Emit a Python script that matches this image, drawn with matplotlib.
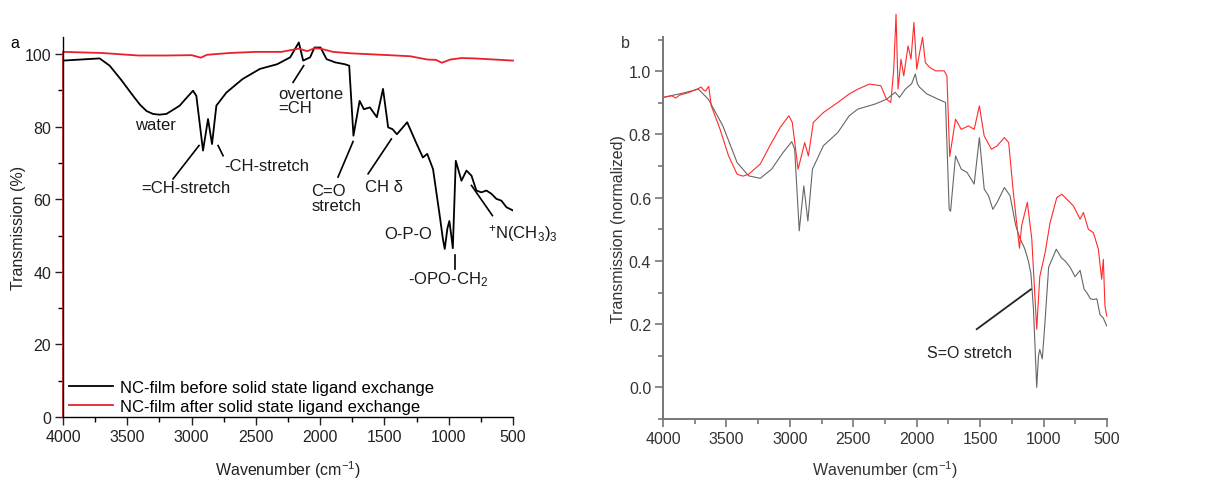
import matplotlib
matplotlib.use('Agg')
import matplotlib.pyplot as plt
from matplotlib.ticker import MultipleLocator, FormatStrFormatter

plt.rcParams['font.family'] = ['Liberation Sans', 'DejaVu Sans']
plt.rcParams['mathtext.fontset'] = 'custom'
plt.rcParams['mathtext.rm'] = 'Liberation Sans'
plt.rcParams['mathtext.default'] = 'regular'

# panel a: NC-film before exchange (black)
wn_before = [4000, 3715, 3637, 3550, 3455, 3400, 3350, 3300, 3250, 3196, 3150, 3092, 3050,
             2989, 2963, 2911, 2872, 2841, 2807, 2729, 2604, 2469, 2334, 2233, 2166, 2132,
             2078, 2044, 1997, 1950, 1882, 1808, 1774, 1741, 1693, 1660, 1613, 1559, 1511,
             1471, 1437, 1403, 1323, 1255, 1201, 1167, 1122, 1070, 1045, 1031, 1010, 995,
             980, 968, 945, 901, 862, 823, 785, 746, 707, 668, 629, 590, 551, 500]
t_before = [98.2, 98.8, 96.8, 93.0, 88.5, 86.0, 84.3, 83.5, 83.3, 83.5, 84.5, 85.8, 87.5,
            89.9, 88.5, 73.4, 82.1, 75.2, 85.8, 89.4, 93.1, 95.9, 97.2, 99.1, 103.2, 98.2,
            99.1, 101.8, 101.8, 98.6, 97.7, 97.2, 96.8, 77.5, 87.1, 84.8, 85.3, 82.6, 90.4,
            79.8, 79.3, 77.9, 81.2, 75.7, 71.5, 72.5, 68.3, 55.5, 49.0, 46.3, 52.0, 54.0,
            50.0, 46.5, 70.6, 65.1, 67.9, 66.5, 62.4, 61.9, 62.4, 61.5, 60.1, 59.6, 57.8, 56.9]

# panel a: NC-film after exchange (red)
wn_after = [4000, 4000, 3900, 3700, 3413, 3200, 3000, 2928, 2880, 2700, 2500, 2300, 2166,
            2100, 2044, 1997, 1900, 1760, 1525, 1300, 1167, 1100, 1053, 987, 900, 800,
            700, 600, 500]
t_after = [0, 100.6, 100.5, 100.3, 99.6, 99.6, 99.7, 99.0, 99.8, 100.3, 100.6, 100.6, 101.5,
           100.8, 101.6, 101.5, 100.6, 100.2, 99.8, 99.4, 98.5, 98.4, 97.6, 98.5, 98.9, 98.8,
           98.6, 98.4, 98.2]

# panel b: normalized spectra
wn_b_red = [4000, 3930, 3900, 3870, 3800, 3721, 3700, 3680, 3665, 3640, 3619, 3551, 3483,
            3416, 3370, 3325, 3234, 3144, 3076, 3008, 2981, 2935, 2883, 2854, 2815, 2736,
            2622, 2532, 2464, 2374, 2283, 2238, 2204, 2181, 2163, 2147, 2124, 2102, 2068,
            2045, 2022, 2000, 1977, 1954, 1932, 1898, 1852, 1784, 1762, 1740, 1694, 1649,
            1592, 1547, 1506, 1468, 1411, 1366, 1309, 1275, 1241, 1207, 1190, 1173, 1128,
            1093, 1070, 1054, 1030, 988, 949, 896, 857, 817, 765, 712, 686, 647, 607, 568,
            542, 529, 516, 502]
v_b_red = [0.917, 0.922, 0.915, 0.924, 0.932, 0.945, 0.950, 0.940, 0.937, 0.952, 0.890,
           0.817, 0.732, 0.674, 0.668, 0.674, 0.706, 0.774, 0.822, 0.859, 0.838, 0.690,
           0.774, 0.732, 0.838, 0.869, 0.901, 0.928, 0.943, 0.959, 0.954, 0.911, 0.901,
           1.006, 1.180, 0.943, 1.038, 0.985, 1.080, 1.038, 1.154, 1.006, 1.059, 1.107,
           1.027, 1.012, 1.001, 1.001, 0.985, 0.730, 0.848, 0.816, 0.827, 0.816, 0.890,
           0.795, 0.753, 0.764, 0.790, 0.774, 0.627, 0.501, 0.440, 0.511, 0.585, 0.470,
           0.300, 0.184, 0.350, 0.426, 0.520, 0.600, 0.611, 0.595, 0.574, 0.532, 0.553,
           0.500, 0.489, 0.437, 0.342, 0.405, 0.257, 0.226]

wn_b_gray = [4000, 3850, 3721, 3642, 3528, 3416, 3325, 3234, 3144, 3053, 2985, 2962, 2926,
             2890, 2858, 2822, 2736, 2622, 2532, 2464, 2328, 2238, 2170, 2136, 2090, 2040,
             2011, 1995, 1977, 1920, 1830, 1773, 1744, 1733, 1694, 1649, 1604, 1547, 1506,
             1468, 1434, 1400, 1366, 1309, 1264, 1219, 1185, 1150, 1120, 1100, 1080, 1054,
             1040, 1030, 1010, 990, 960, 900, 860, 830, 791, 752, 712, 680, 660, 630, 607,
             580, 555, 530, 502]
v_b_gray = [0.917, 0.930, 0.943, 0.911, 0.827, 0.711, 0.669, 0.661, 0.690, 0.743, 0.777,
            0.753, 0.495, 0.637, 0.526, 0.690, 0.764, 0.806, 0.859, 0.880, 0.896, 0.911,
            0.933, 0.917, 0.943, 0.960, 0.991, 0.960, 0.949, 0.928, 0.911, 0.901, 0.563,
            0.557, 0.732, 0.690, 0.680, 0.643, 0.790, 0.627, 0.606, 0.563, 0.585, 0.632,
            0.606, 0.511, 0.470, 0.440, 0.400, 0.360, 0.250, 0.000, 0.100, 0.120, 0.090,
            0.200, 0.380, 0.437, 0.410, 0.400, 0.380, 0.350, 0.370, 0.310, 0.300, 0.280,
            0.278, 0.280, 0.230, 0.220, 0.194]

FS = 11.5

fig = plt.figure(figsize=(12.08, 4.81), dpi=100)
ax1 = fig.add_axes([63 / 1208, 1 - 418 / 481, 450 / 1208, 380 / 481])
ax2 = fig.add_axes([663 / 1208, 1 - 420 / 481, 444 / 1208, 382 / 481])

# ---- panel a
ax1.plot(wn_before, t_before, color='black', lw=1.3,
         label='NC-film before solid state ligand exchange')
ax1.plot(wn_after, t_after, color='#e8202a', lw=1.3, clip_on=False,
         label='NC-film after solid state ligand exchange')
ax1.set_xlim(4000, 500)
ax1.set_ylim(0, 104.7)
ax1.xaxis.set_major_locator(MultipleLocator(500))
ax1.xaxis.set_minor_locator(MultipleLocator(250))
ax1.yaxis.set_major_locator(MultipleLocator(20))
ax1.yaxis.set_minor_locator(MultipleLocator(10))
ax1.set_xlabel('Wavenumber (cm$^{-1}$)', fontsize=FS, color='#222222')
ax1.set_ylabel('Transmission (%)', fontsize=FS, color='#222222')
ax1.xaxis.set_label_coords(0.5, -0.108)
ax1.yaxis.set_label_coords(-0.082, 0.5)
ax1.legend(loc='lower left', bbox_to_anchor=(0.014, 0.008), frameon=False,
           fontsize=FS + 0.5, handlelength=2.6, handletextpad=0.45,
           labelspacing=0.25, borderpad=0, borderaxespad=0)

annots = [
    ('water', 3282, 80.5, 'center', 'center'),
    ('=CH-stretch', 3041, 63.3, 'center', 'center'),
    ('-CH-stretch', 2413, 69.3, 'center', 'center'),
    ('overtone\n=CH', 2327, 91.3, 'left', 'top'),
    ('C=O\nstretch', 2068, 64.4, 'left', 'top'),
    ('CH δ', 1653, 63.6, 'left', 'center'),
    ('O-P-O', 1498, 50.5, 'left', 'center'),
    ('-OPO-CH$_2$', 1005, 38.1, 'center', 'center'),
    ('$^{+}$N(CH$_3$)$_3$', 694, 50.9, 'left', 'center'),
]
for txt, x, y, ha, va in annots:
    ax1.text(x, y, txt, ha=ha, va=va, fontsize=FS + 0.5, color='#1a1a1a',
             linespacing=0.95)

pointers = [
    ((3144, 2942), (65.6, 74.8)),
    ((2794, 2755), (74.8, 72.0)),
    ((2211, 2128), (92.2, 96.8)),
    ((1861, 1744), (66.1, 75.9)),
    ((1627, 1446), (67.0, 76.6)),
    ((953, 953), (44.5, 40.8)),
    ((823, 660), (63.8, 55.5)),
]
for xs, ys in pointers:
    ax1.plot(xs, ys, color='black', lw=1.2)

for s in ['top', 'right']:
    ax1.spines[s].set_visible(False)
for s in ['left', 'bottom']:
    ax1.spines[s].set_linewidth(1.0)
ax1.tick_params(which='major', length=6, width=1, labelsize=FS, colors='#222222', pad=2.5)
ax1.tick_params(which='minor', length=3.5, width=1)

# ---- panel b
ax2.plot(wn_b_gray, v_b_gray, color='#666666', lw=0.8)
ax2.plot(wn_b_red, v_b_red, color='#ff2a2a', lw=0.8, clip_on=False)
ax2.set_xlim(4000, 500)
ax2.set_ylim(-0.1, 1.108)
ax2.xaxis.set_major_locator(MultipleLocator(500))
ax2.xaxis.set_minor_locator(MultipleLocator(250))
ax2.yaxis.set_major_locator(MultipleLocator(0.2))
ax2.yaxis.set_minor_locator(MultipleLocator(0.1))
ax2.yaxis.set_major_formatter(FormatStrFormatter('%.1f'))
ax2.set_xlabel('Wavenumber (cm$^{-1}$)', fontsize=FS, color='#333333')
ax2.set_ylabel('Transmission (normalized)', fontsize=FS, color='#333333')
ax2.xaxis.set_label_coords(0.5, -0.103)
ax2.yaxis.set_label_coords(-0.083, 0.5)
ax2.text(1587, 0.11, 'S=O stretch', ha='center', va='center', fontsize=FS,
         color='#222222')
ax2.plot([1527, 1100], [0.184, 0.31], color='#222222', lw=1.3)

for s in ['top', 'right']:
    ax2.spines[s].set_visible(False)
for s in ['left', 'bottom']:
    ax2.spines[s].set_linewidth(1.4)
    ax2.spines[s].set_color('#777777')
ax2.tick_params(which='major', length=6, width=1.2, labelsize=FS,
                color='#777777', labelcolor='#333333', pad=2.5)
ax2.tick_params(which='minor', length=3.5, width=1.2, color='#777777')

fig.text(15 / 1208, 1 - 43 / 481, 'a', fontsize=FS, ha='center', va='center')
fig.text(625 / 1208, 1 - 43 / 481, 'b', fontsize=FS, ha='center', va='center',
         color='#333333')

fig.savefig('out.png', dpi=100)
